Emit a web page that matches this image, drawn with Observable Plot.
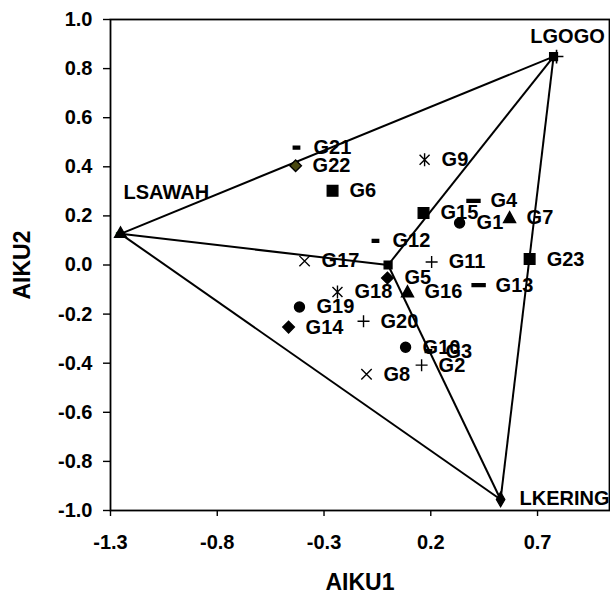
<!DOCTYPE html>
<html><head><meta charset="utf-8">
<script src="https://cdn.jsdelivr.net/npm/d3@7"></script>
<script src="https://cdn.jsdelivr.net/npm/@observablehq/plot@0.6"></script>
<style>html,body{margin:0;padding:0;background:#fff;overflow:hidden;} #chart svg{display:block;}</style>
</head><body><div id="chart"></div>
<script>
// ---- data ----
const groups = ["G1","G2","G3","G4","G5","G6","G7","G8","G9","G10","G11","G12","G13","G14","G15","G16","G17","G18","G19","G20","G21","G22","G23"];
const aiku1 = [0.335, 0.157, 0.189, 0.400, -0.003, -0.260, 0.569, -0.101, 0.171, 0.082, 0.204, -0.059, 0.424, -0.466, 0.166, 0.091, -0.391, -0.237, -0.415, -0.115, -0.429, -0.433, 0.663];
const aiku2 = [0.171, -0.408, -0.351, 0.261, -0.053, 0.302, 0.192, -0.445, 0.429, -0.335, 0.012, 0.098, -0.082, -0.253, 0.212, -0.110, 0.016, -0.110, -0.171, -0.229, 0.478, 0.404, 0.024];
const markers = ["circle","plus","dash","longdash","diamond","square","triangle","times","asterisk","circle","plus","dash","longdash","diamond","square","triangle","times","asterisk","circle","plus","dash","diamond","square"];

const vertexNames = ["LSAWAH","LGOGO","LKERING"];
const vertex1 = [-1.253, 0.775, 0.527];
const vertex2 = [0.127, 0.849, -0.955];
const vertexMarkers = ["triangle","square","diamond"];

const centreName = "centre";
const centre1 = [0.0];
const centre2 = [0.0];

const edges = [["LSAWAH","LGOGO"],["LGOGO","LKERING"],["LKERING","LSAWAH"],["centre","LSAWAH"],["centre","LGOGO"],["centre","LKERING"]];

const xTicks = [-1.3, -0.8, -0.3, 0.2, 0.7];
const yTicks = [-1.0, -0.8, -0.6, -0.4, -0.2, 0.0, 0.2, 0.4, 0.6, 0.8, 1.0];

// ---- tables ----
const points = groups.map((g, i) => ({name: g, x: aiku1[i], y: aiku2[i], shape: markers[i]}));
const vertices = vertexNames.map((n, i) => ({name: n, x: vertex1[i], y: vertex2[i], shape: vertexMarkers[i]}));
const centre = [{name: centreName, x: centre1[0], y: centre2[0], shape: "square"}];
const lookup = new Map([...vertices, ...centre].map(d => [d.name, d]));
const links = edges.map(([a, b]) => ({x1: lookup.get(a).x, y1: lookup.get(a).y, x2: lookup.get(b).x, y2: lookup.get(b).y}));

// ---- custom symbols ----
const sym = {
  square:   {draw(c){ c.rect(-5.3, -5.3, 10.6, 10.6); }},
  circle:   {draw(c){ c.moveTo(5, 0); c.arc(0, 0, 5, 0, 2 * Math.PI); }},
  triangle: {draw(c){ c.moveTo(0, -6.2); c.lineTo(6, 4.8); c.lineTo(-6, 4.8); c.closePath(); }},
  diamond:  {draw(c){ c.moveTo(0, -5.8); c.lineTo(5.8, 0); c.lineTo(0, 5.8); c.lineTo(-5.8, 0); c.closePath(); }},
  times:    {draw(c){ c.moveTo(-5.2, -5.2); c.lineTo(5.2, 5.2); c.moveTo(5.2, -5.2); c.lineTo(-5.2, 5.2); }},
  plus:     {draw(c){ c.moveTo(-6, 0); c.lineTo(6, 0); c.moveTo(0, -6); c.lineTo(0, 6); }},
  asterisk: {draw(c){ c.moveTo(-5, -5); c.lineTo(5, 5); c.moveTo(5, -5); c.lineTo(-5, 5); c.moveTo(0, -6.5); c.lineTo(0, 6.5); }},
  dash:     {draw(c){ c.rect(-3.2, -1.4, 6.4, 2.8); }},
  longdash: {draw(c){ c.rect(-6.5, -1.4, 13, 2.8); }}
};

const fmt = d => d.toFixed(1);
const font = "'Liberation Sans', Arial, Helvetica, sans-serif";
const fs = 20;

const chart = Plot.plot({
  width: 610,
  height: 594,
  marginLeft: 110,
  marginRight: 1,
  marginTop: 19,
  marginBottom: 84,
  style: {fontFamily: font, fontWeight: "bold", fontSize: fs + "px", color: "black", background: "white"},
  x: {domain: [-1.3, 1.037]},
  y: {domain: [-1, 1]},
  symbol: {domain: Object.keys(sym), range: Object.values(sym)},
  marks: [
    Plot.axisX({ticks: xTicks, tickFormat: fmt, tickSize: 6, tickPadding: 18, label: null, fontSize: fs, fontWeight: "bold", stroke: "black", strokeWidth: 1.4}),
    Plot.axisY({ticks: yTicks, tickFormat: fmt, tickSize: 7, tickPadding: 11, label: null, fontSize: fs, fontWeight: "bold", stroke: "black", strokeWidth: 1.4}),
    Plot.frame({stroke: "black", strokeWidth: 1.8}),
    Plot.link(links, {x1: "x1", y1: "y1", x2: "x2", y2: "y2", stroke: "black", strokeWidth: 2}),
    Plot.dot(vertices.slice(0, 1), {x: "x", y: "y", symbol: () => "dash", fill: "#1f6b1f", stroke: "#1f6b1f", strokeWidth: 1, dx: -1}),
    Plot.dot(vertices.slice(1, 2), {x: "x", y: "y", symbol: () => "plus", stroke: "black", strokeWidth: 1.6, dx: 3}),
    Plot.dot(vertices, {x: "x", y: "y", symbol: "shape", fill: "black", stroke: "black", strokeWidth: 1.2}),
    Plot.dot(centre, {x: "x", y: "y", symbol: "shape", fill: "black", stroke: "black", strokeWidth: 1.2}),
    Plot.dot(points, {x: "x", y: "y", symbol: "shape", fill: d => d.name === "G22" ? "#47470f" : "black", stroke: "black", strokeWidth: 1.4}),
    Plot.text(points, {x: "x", y: "y", text: "name", dx: 17, textAnchor: "start", lineAnchor: "middle", fontSize: fs, fontWeight: "bold", fill: "black"}),
    Plot.text(vertices.slice(0, 1), {x: "x", y: "y", text: "name", dx: 3, dy: -41, textAnchor: "start", lineAnchor: "middle", fontSize: fs, fontWeight: "bold", fill: "black"}),
    Plot.text(vertices.slice(1, 2), {x: "x", y: "y", text: "name", dx: 14, dy: -20, textAnchor: "middle", lineAnchor: "middle", fontSize: fs, fontWeight: "bold", fill: "black"}),
    Plot.text(vertices.slice(2, 3), {x: "x", y: "y", text: "name", dx: 19, dy: -1, textAnchor: "start", lineAnchor: "middle", fontSize: fs, fontWeight: "bold", fill: "black"}),
    Plot.text(["AIKU1"], {text: d => d, frameAnchor: "bottom", dy: 72, lineAnchor: "middle", textAnchor: "middle", fontSize: 23, fontWeight: "bold", fill: "black"}),
    Plot.text(["AIKU2"], {text: d => d, frameAnchor: "left", dx: -88, rotate: -90, lineAnchor: "middle", textAnchor: "middle", fontSize: 23, fontWeight: "bold", fill: "black"})
  ]
});
document.getElementById("chart").appendChild(chart);
</script>
</body></html>
